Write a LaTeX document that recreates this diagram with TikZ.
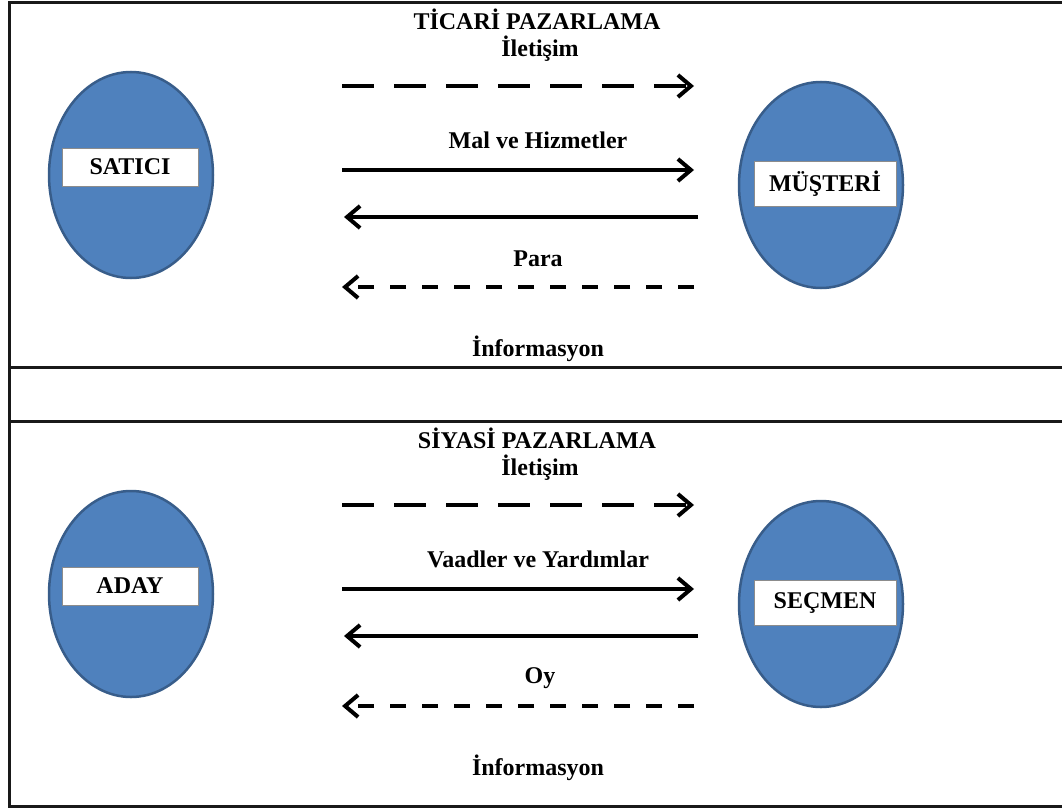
\documentclass[tikz,border=0pt]{standalone}
\usepackage{fontspec}
\setmainfont{Liberation Serif}
\usetikzlibrary{shapes.geometric,arrows.meta}
\definecolor{blobfill}{HTML}{4F81BD}
\definecolor{blobedge}{HTML}{385D8A}
\tikzset{
  blob/.style={ellipse,draw=blobedge,fill=blobfill,line width=2.5pt,minimum width=164pt,minimum height=206pt,inner sep=0pt},
  tag/.style={draw=black!45,fill=white,line width=1pt,inner sep=0pt,font=\fontsize{24}{27}\selectfont\bfseries},
  txt/.style={font=\fontsize{24}{27}\selectfont\bfseries,inner sep=0pt},
  frame/.style={line width=3pt,draw=black!90},
  flow/.style={line width=4pt,-{Straight Barb[length=13pt,width=22pt,line width=4pt]}},
  longdash/.style={dash pattern=on 32pt off 20pt},
  shortdash/.style={dash pattern=on 16pt off 16pt}
}
\begin{document}
\begin{tikzpicture}[x=1pt,y=-1pt]
\useasboundingbox (0,0) rectangle (1062,808);
% frame
\draw[frame] (1062,3) -- (9,3) -- (9,806) -- (1062,806);
\draw[frame] (9,367) -- (1062,367);
\draw[frame] (9,421) -- (1062,421);

% ---------- top section ----------
\node[txt] (h1) at (537,19) {TİCARİ PAZARLAMA};
\node[txt] (i1) at (540,49) {İletişim};
\node[txt] (m1) at (538,140) {Mal ve Hizmetler};
\node[txt] (p1) at (538,259) {Para};
\node[txt] (f1) at (538,349) {İnformasyon};

\node[blob] (sat) at (131,175) {};
\node[tag,minimum width=136pt,minimum height=38pt] (satl) at (130,167) {SATICI};
\node[blob] (mus) at (821,185) {};
\node[tag,minimum width=142pt,minimum height=45pt] (musl) at (825,184) {MÜŞTERİ};

\coordinate (a1s) at (342,86);  \coordinate (a1e) at (694,86);
\coordinate (b1s) at (342,170); \coordinate (b1e) at (694,170);
\coordinate (c1s) at (698,217); \coordinate (c1e) at (344,217);
\coordinate (d1s) at (694,287); \coordinate (d1e) at (342,287);
\draw[flow,longdash] (a1s) -- (a1e);
\draw[flow] (b1s) -- (b1e);
\draw[flow] (c1s) -- (c1e);
\draw[flow,shortdash] (d1s) -- (d1e);

% ---------- bottom section ----------
\node[txt] (h2) at (537,438) {SİYASİ PAZARLAMA};
\node[txt] (i2) at (540,468) {İletişim};
\node[txt] (m2) at (538,559) {Vaadler ve Yardımlar};
\node[txt] (p2) at (540,678) {Oy};
\node[txt] (f2) at (538,768) {İnformasyon};

\node[blob] (ada) at (131,594) {};
\node[tag,minimum width=136pt,minimum height=38pt] (adal) at (130,586) {ADAY};
\node[blob] (sec) at (821,604) {};
\node[tag,minimum width=142pt,minimum height=45pt] (secl) at (825,603) {SEÇMEN};

\coordinate (a2s) at (342,505); \coordinate (a2e) at (694,505);
\coordinate (b2s) at (342,589); \coordinate (b2e) at (694,589);
\coordinate (c2s) at (698,636); \coordinate (c2e) at (344,636);
\coordinate (d2s) at (694,706); \coordinate (d2e) at (342,706);
\draw[flow,longdash] (a2s) -- (a2e);
\draw[flow] (b2s) -- (b2e);
\draw[flow] (c2s) -- (c2e);
\draw[flow,shortdash] (d2s) -- (d2e);
\end{tikzpicture}
\end{document}
